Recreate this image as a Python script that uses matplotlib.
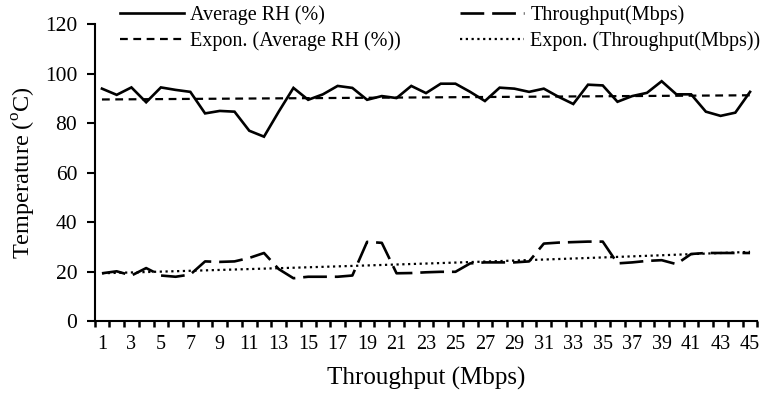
import numpy as np
import matplotlib
matplotlib.use("Agg")
import matplotlib.pyplot as plt
from matplotlib.lines import Line2D

plt.rcParams["font.family"] = ["Liberation Serif", "DejaVu Serif"]
plt.rcParams["mathtext.fontset"] = "custom"
plt.rcParams["mathtext.rm"] = "Liberation Serif"

# data
samples = list(range(1, 46))
avg_rh = [94, 91.5, 94.5, 88.5, 94.5, 93.5, 92.7, 84, 85, 84.7,
          77, 74.6, 84.7, 94.3, 89.5, 91.7, 95.1, 94.3, 89.5, 91,
          90.2, 95.1, 92.2, 96, 96, 92.7, 89, 94.4, 94, 92.7,
          94, 90.7, 87.8, 95.6, 95.3, 88.7, 91, 92.3, 97, 91.7,
          91.7, 84.7, 83, 84.3, 92.7]
throughput = [19.4, 20.2, 18.5, 21.5, 18.5, 18, 18.9, 24.2, 24, 24.2,
              25.6, 27.6, 21.1, 17.4, 18, 18, 18, 18.5, 32.1, 31.7,
              19.4, 19.5, 19.8, 20, 20, 23.4, 23.8, 23.8, 23.8, 24.2,
              31.4, 31.8, 32, 32.2, 32.2, 23.4, 23.8, 24.4, 24.7, 23.1,
              27.2, 27.6, 27.6, 27.6, 27.6]


def expon_fit(x, y):
    # same thing excel does for an exponential trendline
    k, c = np.polyfit(x, np.log(y), 1)
    return np.exp(c) * np.exp(k * np.asarray(x))


x = np.array(samples)
rh_trend = expon_fit(x, avg_rh)
tp_trend = expon_fit(x, throughput)

fig = plt.figure(figsize=(7.61, 3.93), dpi=100)
ax = fig.add_axes([94.6 / 761, 1 - 321.3 / 393, 662.8 / 761, 297 / 393])

ax.plot(x, avg_rh, color="black", lw=1.9, solid_joinstyle="miter")
ax.plot(x, throughput, color="black", lw=1.9, dashes=(9, 3))
ax.plot(x, rh_trend, color="black", lw=1.6, dashes=(3.5, 2.5))
ax.plot(x, tp_trend, color="black", lw=1.6, dashes=(1, 1.6))

ax.set_xlim(0.5, 45.5)
ax.set_ylim(0, 120)
ax.set_yticks(range(0, 121, 20))
ax.set_xticks(samples[::2])
ax.set_xticks(np.arange(0.5, 46, 1), minor=True)

for s in ["top", "right"]:
    ax.spines[s].set_visible(False)
for s in ["left", "bottom"]:
    ax.spines[s].set_linewidth(1.5)

ax.tick_params(axis="y", direction="out", length=5.5, width=1.5, pad=7, labelsize=15.5)
ax.tick_params(axis="x", which="major", length=0, pad=10, labelsize=14.5)
ax.tick_params(axis="x", which="minor", direction="out", length=4, width=1.8)

ax.set_xlabel("Throughput (Mbps)", fontsize=18)
ax.set_ylabel(r"Temperature ($^{\rm o}$C)", fontsize=17.5)
ax.xaxis.set_label_coords(0.5, -0.155)
ax.yaxis.set_label_coords(-0.085, 0.5)


def add_legend(handles, labels, x_px):
    leg = fig.legend(handles, labels, loc="center left",
                     bbox_to_anchor=(x_px / 761, 1 - 28.5 / 393),
                     frameon=False, fontsize=14.5, handlelength=3.2,
                     handletextpad=0.3, labelspacing=0.3,
                     borderpad=0, borderaxespad=0)
    return leg


add_legend([Line2D([], [], color="black", lw=1.9),
            Line2D([], [], color="black", lw=1.6, dashes=(3.5, 2.5))],
           ["Average RH (%)", "Expon. (Average RH (%))"], 120)
add_legend([Line2D([], [], color="black", lw=1.9, dashes=(9, 3)),
            Line2D([], [], color="black", lw=1.6, dashes=(1, 1.6))],
           ["Throughput(Mbps)", "Expon. (Throughput(Mbps))"], 460)

fig.savefig("out.png", dpi=100)
